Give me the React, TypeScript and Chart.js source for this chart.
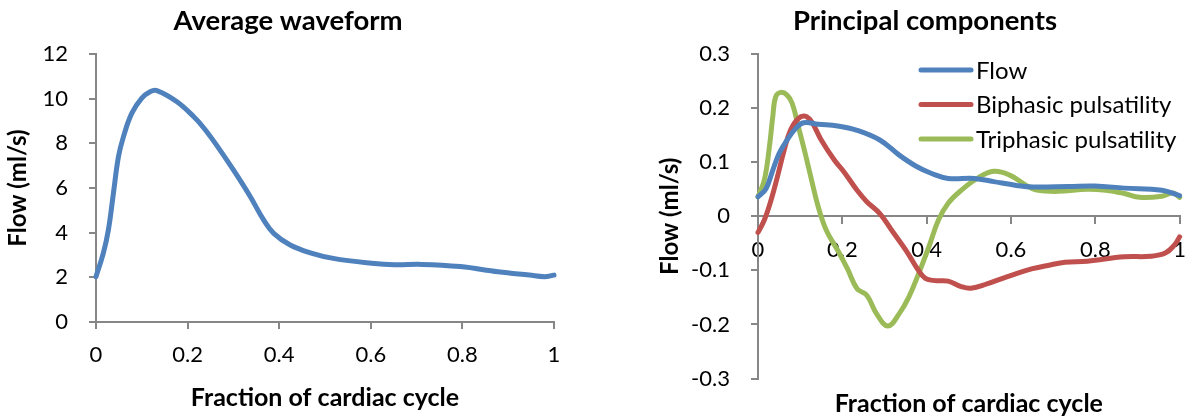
import React, { useEffect, useRef } from "react";
import { Chart, registerables } from "chart.js";

Chart.register(...registerables);

const FONT = "Lato, 'Noto Sans', sans-serif";
const AXIS = "#868686";
const BLUE = "#4F81BD";
const RED = "#C0504D";
const GREEN = "#9BBB59";

// ---- tick values / labels ----
const xTickValues = [0, 0.2, 0.4, 0.6, 0.8, 1];
const xTickLabels = ["0", "0.2", "0.4", "0.6", "0.8", "1"];
const avgYTickValues = [0, 2, 4, 6, 8, 10, 12];
const avgYTickLabels = ["0", "2", "4", "6", "8", "10", "12"];
const pcYTickValues = [-0.3, -0.2, -0.1, 0, 0.1, 0.2, 0.3];
const pcYTickLabels = ["-0.3", "-0.2", "-0.1", "0", "0.1", "0.2", "0.3"];

// ---- titles ----
const leftTitle = "Average waveform";
const rightTitle = "Principal components";
const xTitle = "Fraction of cardiac cycle";
const yTitle = "Flow (ml/s)";
const seriesNames = ["Flow", "Biphasic pulsatility", "Triphasic pulsatility"];

// ---- Average waveform ----
const avgX = [0, 0.016, 0.027, 0.038, 0.049, 0.06, 0.078, 0.1, 0.118, 0.133, 0.176, 0.213, 0.235, 0.264, 0.3, 0.337, 0.366, 0.388, 0.424, 0.468, 0.518, 0.602, 0.652, 0.711, 0.795, 0.878, 0.946, 0.979, 1];
const avgFlow = [2.03, 3.08, 4.12, 5.76, 7.4, 8.3, 9.34, 10.02, 10.31, 10.36, 9.87, 9.2, 8.7, 7.9, 6.81, 5.61, 4.57, 3.97, 3.45, 3.1, 2.85, 2.63, 2.56, 2.58, 2.48, 2.25, 2.1, 2.03, 2.1];

// ---- Principal components ----
const flowX = [0, 0.019, 0.035, 0.05, 0.069, 0.089, 0.108, 0.143, 0.189, 0.235, 0.289, 0.335, 0.374, 0.412, 0.451, 0.513, 0.559, 0.613, 0.651, 0.737, 0.799, 0.869, 0.958, 1];
const flowPC = [0.036, 0.051, 0.085, 0.116, 0.141, 0.162, 0.173, 0.17, 0.167, 0.159, 0.141, 0.113, 0.093, 0.079, 0.07, 0.07, 0.064, 0.057, 0.054, 0.055, 0.056, 0.052, 0.048, 0.038];

const biX = [0, 0.015, 0.031, 0.046, 0.062, 0.077, 0.096, 0.112, 0.127, 0.15, 0.181, 0.204, 0.235, 0.258, 0.289, 0.32, 0.351, 0.378, 0.397, 0.42, 0.451, 0.482, 0.505, 0.543, 0.59, 0.651, 0.693, 0.728, 0.781, 0.869, 0.931, 0.966, 0.988, 1];
const biphasic = [-0.03, -0.007, 0.03, 0.073, 0.122, 0.159, 0.181, 0.185, 0.175, 0.141, 0.104, 0.082, 0.048, 0.027, 0.005, -0.029, -0.063, -0.097, -0.115, -0.119, -0.12, -0.13, -0.133, -0.125, -0.112, -0.097, -0.09, -0.085, -0.083, -0.075, -0.074, -0.068, -0.053, -0.038];

const triX = [0, 0.015, 0.027, 0.035, 0.042, 0.054, 0.069, 0.081, 0.096, 0.112, 0.127, 0.143, 0.162, 0.189, 0.212, 0.235, 0.258, 0.281, 0.308, 0.335, 0.358, 0.381, 0.405, 0.428, 0.451, 0.482, 0.52, 0.559, 0.597, 0.636, 0.658, 0.711, 0.781, 0.825, 0.869, 0.905, 0.958, 0.984, 1];
const triphasic = [0.036, 0.067, 0.128, 0.184, 0.221, 0.229, 0.224, 0.209, 0.165, 0.116, 0.067, 0.017, -0.026, -0.063, -0.097, -0.134, -0.146, -0.18, -0.203, -0.18, -0.149, -0.106, -0.057, -0.007, 0.024, 0.048, 0.07, 0.083, 0.076, 0.057, 0.049, 0.046, 0.05, 0.048, 0.042, 0.035, 0.037, 0.043, 0.035];

const pts = (xs: number[], ys: number[]) => xs.map((x, i) => ({ x, y: ys[i] }));

const lineStyle = (color: string) => ({
  borderColor: color,
  backgroundColor: color,
  borderWidth: 5,
  pointRadius: 0,
  pointHoverRadius: 0,
  tension: 0.4,
  borderCapStyle: "round" as const,
  borderJoinStyle: "round" as const,
  fill: false,
  clip: false as const,
});

const tickFont = { family: FONT, size: 22 };
const boldFont = (size: number) => ({ family: FONT, size, weight: "bold" as const });

const axisGrid = {
  drawOnChartArea: false,
  drawTicks: true,
  tickLength: 7,
  tickWidth: 2,
  tickColor: AXIS,
  color: AXIS,
  lineWidth: 2,
};
const axisBorder = { color: AXIS, width: 2 };

function xAxis(extra: any) {
  return {
    type: "linear",
    min: 0,
    max: 1,
    afterBuildTicks: (s: any) => {
      s.ticks = xTickValues.map((v) => ({ value: v }));
    },
    ticks: {
      callback: (_v: any, i: number) => xTickLabels[i],
      font: tickFont,
      color: "#000",
      padding: 13,
      maxRotation: 0,
      autoSkip: false,
    },
    grid: axisGrid,
    border: axisBorder,
    ...extra,
  };
}

function yAxis(values: number[], labels: string[], width: number, titleOffset: number) {
  return {
    type: "linear",
    position: "left",
    min: values[0],
    max: values[values.length - 1],
    afterBuildTicks: (s: any) => {
      s.ticks = values.map((v) => ({ value: v }));
    },
    afterFit: (s: any) => {
      s.width = width;
    },
    ticks: {
      callback: (_v: any, i: number) => labels[i],
      font: tickFont,
      color: "#000",
      padding: 21,
      autoSkip: false,
    },
    title: {
      display: true,
      text: yTitle,
      font: boldFont(24),
      color: "#000",
      padding: { top: titleOffset, bottom: 0 },
    },
    grid: axisGrid,
    border: axisBorder,
  };
}

const insideLegend = {
  id: "insideLegend",
  afterDatasetsDraw(chart: any) {
    const { ctx, chartArea } = chart;
    ctx.save();
    ctx.font = `24px ${FONT}`;
    ctx.textBaseline = "middle";
    ctx.textAlign = "left";
    chart.data.datasets.forEach((ds: any, i: number) => {
      const y = chartArea.top + 16 + i * 34.5;
      const x = chartArea.left + 161;
      ctx.strokeStyle = ds.borderColor;
      ctx.lineWidth = 5;
      ctx.lineCap = "round";
      ctx.beginPath();
      ctx.moveTo(x + 2, y);
      ctx.lineTo(x + 52, y);
      ctx.stroke();
      ctx.fillStyle = "#000";
      ctx.fillText(ds.label, x + 57, y + 1);
    });
    ctx.restore();
  },
};

const chartTitle = (text: string) => ({
  display: true,
  text,
  font: boldFont(27.5),
  color: "#000",
  padding: { top: 4.5, bottom: 16.5 },
});

function leftConfig(): any {
  return {
    type: "line",
    data: {
      datasets: [{ label: "Average", data: pts(avgX, avgFlow), ...lineStyle(BLUE) }],
    },
    options: {
      responsive: false,
      animation: false,
      devicePixelRatio: 1,
      layout: { padding: { left: 22, right: 38, top: 0, bottom: 7.5 } },
      plugins: {
        legend: { display: false },
        tooltip: { enabled: false },
        title: chartTitle(leftTitle),
      },
      scales: {
        x: xAxis({
          position: "bottom",
          afterFit: (s: any) => {
            s.height = 90.5;
          },
          title: { display: true, text: xTitle, font: boldFont(25), color: "#000", padding: 0 },
        }),
        y: yAxis(avgYTickValues, avgYTickLabels, 74, -18.4),
      },
    },
  };
}

function rightConfig(): any {
  return {
    type: "line",
    data: {
      datasets: [
        { label: seriesNames[0], data: pts(flowX, flowPC), ...lineStyle(BLUE) },
        { label: seriesNames[1], data: pts(biX, biphasic), ...lineStyle(RED) },
        { label: seriesNames[2], data: pts(triX, triphasic), ...lineStyle(GREEN) },
      ],
    },
    plugins: [insideLegend],
    options: {
      responsive: false,
      animation: false,
      devicePixelRatio: 1,
      layout: { padding: { left: 9, right: 8, top: 0, bottom: 1.5 } },
      plugins: {
        legend: { display: false },
        tooltip: { enabled: false },
        title: chartTitle(rightTitle),
        subtitle: {
          display: true,
          text: xTitle,
          position: "bottom",
          fullSize: false,
          font: boldFont(25),
          color: "#000",
          padding: { top: 10, bottom: 0 },
        },
      },
      scales: {
        x: xAxis({ position: { y: 0 } }),
        y: yAxis(pcYTickValues, pcYTickLabels, 99, -3.4),
      },
    },
  };
}

function ChartCanvas({ makeConfig, left, width }: { makeConfig: () => any; left: number; width: number }) {
  const ref = useRef<HTMLCanvasElement>(null);
  useEffect(() => {
    const chart = new Chart(ref.current as HTMLCanvasElement, makeConfig());
    return () => chart.destroy();
  }, []);
  return (
    <canvas
      ref={ref}
      width={width}
      height={420}
      style={{ position: "absolute", left, top: 0, width, height: 420 }}
    />
  );
}

export default function App() {
  return (
    <div
      style={{
        position: "fixed",
        left: 0,
        top: 0,
        width: 1199,
        height: 420,
        background: "#fff",
        overflow: "hidden",
      }}
    >
      <ChartCanvas makeConfig={leftConfig} left={0} width={592} />
      <ChartCanvas makeConfig={rightConfig} left={650} width={549} />
    </div>
  );
}
